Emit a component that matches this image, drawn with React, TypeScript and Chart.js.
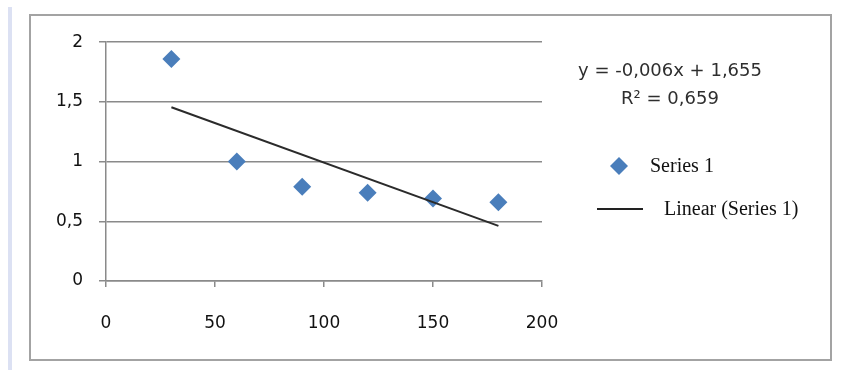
import React, { useEffect, useRef } from "react";
import { Chart, registerables } from "chart.js";

Chart.register(...registerables);

const xValues = [30, 60, 90, 120, 150, 180];
const yValues = [1.86, 1.0, 0.79, 0.74, 0.69, 0.66];
const trendX = [30, 180];
const trendY = [1.455, 0.462];
const seriesName = "Series 1";
const trendName = "Linear (Series 1)";
const equationText = "y = -0,006x + 1,655";
const r2Text = "R² = 0,659";

const BLUE = "#4a7ebb";
const GRID = "#8a8a8a";
const SANS = "'DejaVu Sans', sans-serif";
const SERIF = "'Liberation Serif', serif";

const fmt = (v: number | string) => String(v).replace(".", ",");

const overlayPlugin = {
  id: "overlay",
  afterDraw(chart: any) {
    const ctx = chart.ctx as CanvasRenderingContext2D;
    ctx.save();
    // equation
    ctx.fillStyle = "#2e2e2e";
    ctx.font = `18px ${SANS}`;
    ctx.textAlign = "center";
    ctx.textBaseline = "middle";
    ctx.fillText(equationText, 639, 55);
    ctx.fillText(r2Text, 639, 83);
    // legend: diamond
    ctx.fillStyle = BLUE;
    ctx.beginPath();
    const cx = 588, cy = 150, r = 9;
    ctx.moveTo(cx, cy - r);
    ctx.lineTo(cx + r, cy);
    ctx.lineTo(cx, cy + r);
    ctx.lineTo(cx - r, cy);
    ctx.closePath();
    ctx.fill();
    ctx.fillStyle = "#111";
    ctx.font = `20px ${SERIF}`;
    ctx.textAlign = "left";
    ctx.fillText(seriesName, 619, 151);
    // legend: line
    ctx.strokeStyle = "#222";
    ctx.lineWidth = 2;
    ctx.beginPath();
    ctx.moveTo(566, 193);
    ctx.lineTo(612, 193);
    ctx.stroke();
    ctx.fillText(trendName, 633, 194);
    ctx.restore();
  },
};

export default function App() {
  const ref = useRef<HTMLCanvasElement | null>(null);

  useEffect(() => {
    if (!ref.current) return;
    const chart = new Chart(ref.current, {
      type: "scatter",
      data: {
        datasets: [
          {
            label: seriesName,
            data: xValues.map((x, i) => ({ x, y: yValues[i] })),
            backgroundColor: BLUE,
            borderColor: BLUE,
            pointStyle: "rectRot",
            pointRadius: 9,
            pointBorderWidth: 0,
            order: 1,
          },
          {
            label: trendName,
            data: trendX.map((x, i) => ({ x, y: trendY[i] })),
            showLine: true,
            borderColor: "#2b2b2b",
            borderWidth: 2,
            pointRadius: 0,
            order: 0,
          } as any,
        ],
      },
      options: {
        animation: false,
        responsive: false,
        devicePixelRatio: 1,
        layout: { padding: { left: 0, top: 25, right: 288, bottom: 0 } },
        plugins: {
          legend: { display: false },
          tooltip: { enabled: false },
        },
        scales: {
          x: {
            type: "linear",
            min: 0,
            max: 200,
            afterFit: (s: any) => {
              s.height = 78;
            },
            ticks: {
              stepSize: 50,
              padding: 26,
              color: "#111",
              font: { family: SANS, size: 17 },
              callback: (v: any) => fmt(v),
            },
            grid: {
              drawOnChartArea: false,
              drawTicks: true,
              tickLength: 6,
              color: GRID,
              lineWidth: 1.5,
            },
            border: { display: true, color: GRID, width: 1.5 },
          },
          y: {
            type: "linear",
            min: 0,
            max: 2,
            afterFit: (s: any) => {
              s.width = 75;
            },
            ticks: {
              stepSize: 0.5,
              padding: 16,
              color: "#111",
              font: { family: SANS, size: 17 },
              callback: (v: any) => fmt(v),
            },
            grid: {
              drawOnChartArea: true,
              drawTicks: true,
              tickLength: 7,
              color: GRID,
              lineWidth: 1.5,
            },
            border: { display: true, color: GRID, width: 1.5 },
          },
        },
      },
      plugins: [overlayPlugin],
    });
    return () => chart.destroy();
  }, []);

  return (
    <div>
      <div
        style={{
          position: "absolute",
          left: 8,
          top: 7,
          width: 4,
          height: 363,
          background: "#dce1f3",
        }}
      />
      <div
        style={{
          position: "absolute",
          left: 29,
          top: 14,
          width: 799,
          height: 343,
          border: "2px solid #a3a3a3",
          background: "#fff",
        }}
      >
        <canvas ref={ref} width={799} height={343} style={{ display: "block" }} />
      </div>
    </div>
  );
}
